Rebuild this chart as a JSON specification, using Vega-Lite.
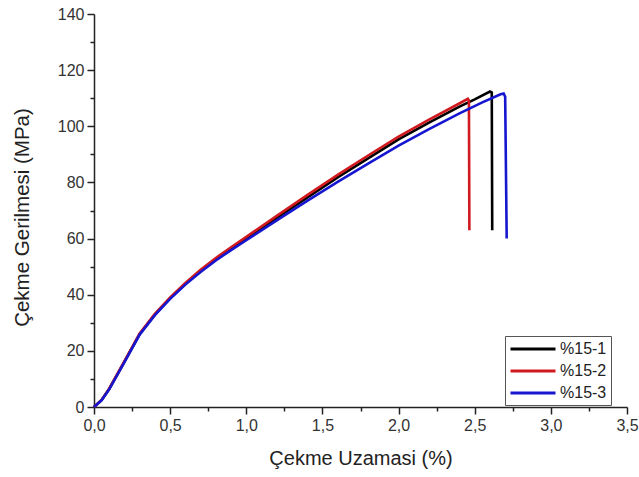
{
  "$schema": "https://vega.github.io/schema/vega-lite/v6.json",
  "autosize": "none",
  "width": 533,
  "height": 393,
  "padding": {"left": 94, "top": 14, "right": 12, "bottom": 70},
  "background": "white",
  "config": {
    "view": {"stroke": null},
    "font": "Liberation Sans"
  },
  "data": {
    "values": [
      {"s": "%15-1", "i": 1, "x": 0.0, "y": 0.0},
      {"s": "%15-1", "i": 2, "x": 0.05, "y": 2.5},
      {"s": "%15-1", "i": 3, "x": 0.1, "y": 6.5},
      {"s": "%15-1", "i": 4, "x": 0.2, "y": 16.2},
      {"s": "%15-1", "i": 5, "x": 0.3, "y": 26.0},
      {"s": "%15-1", "i": 6, "x": 0.4, "y": 33.0},
      {"s": "%15-1", "i": 7, "x": 0.5, "y": 38.8},
      {"s": "%15-1", "i": 8, "x": 0.6, "y": 43.9},
      {"s": "%15-1", "i": 9, "x": 0.7, "y": 48.5},
      {"s": "%15-1", "i": 10, "x": 0.8, "y": 52.6},
      {"s": "%15-1", "i": 11, "x": 0.9, "y": 56.4},
      {"s": "%15-1", "i": 12, "x": 1.0, "y": 60.1},
      {"s": "%15-1", "i": 13, "x": 1.2, "y": 67.4},
      {"s": "%15-1", "i": 14, "x": 1.4, "y": 74.6},
      {"s": "%15-1", "i": 15, "x": 1.6, "y": 81.8},
      {"s": "%15-1", "i": 16, "x": 1.8, "y": 88.6},
      {"s": "%15-1", "i": 17, "x": 2.0, "y": 95.3},
      {"s": "%15-1", "i": 18, "x": 2.2, "y": 101.3},
      {"s": "%15-1", "i": 19, "x": 2.4, "y": 107.0},
      {"s": "%15-1", "i": 20, "x": 2.5, "y": 109.6},
      {"s": "%15-1", "i": 21, "x": 2.6, "y": 112.4},
      {"s": "%15-1", "i": 22, "x": 2.612, "y": 112.0},
      {"s": "%15-1", "i": 23, "x": 2.615, "y": 63.0},
      {"s": "%15-2", "i": 1, "x": 0.0, "y": 0.0},
      {"s": "%15-2", "i": 2, "x": 0.05, "y": 2.5},
      {"s": "%15-2", "i": 3, "x": 0.1, "y": 6.5},
      {"s": "%15-2", "i": 4, "x": 0.2, "y": 16.3},
      {"s": "%15-2", "i": 5, "x": 0.3, "y": 26.2},
      {"s": "%15-2", "i": 6, "x": 0.4, "y": 33.2},
      {"s": "%15-2", "i": 7, "x": 0.5, "y": 39.0},
      {"s": "%15-2", "i": 8, "x": 0.6, "y": 44.2},
      {"s": "%15-2", "i": 9, "x": 0.7, "y": 48.9},
      {"s": "%15-2", "i": 10, "x": 0.8, "y": 53.1},
      {"s": "%15-2", "i": 11, "x": 0.9, "y": 56.9},
      {"s": "%15-2", "i": 12, "x": 1.0, "y": 60.6},
      {"s": "%15-2", "i": 13, "x": 1.2, "y": 68.1},
      {"s": "%15-2", "i": 14, "x": 1.4, "y": 75.5},
      {"s": "%15-2", "i": 15, "x": 1.6, "y": 82.7},
      {"s": "%15-2", "i": 16, "x": 1.8, "y": 89.6},
      {"s": "%15-2", "i": 17, "x": 2.0, "y": 96.3},
      {"s": "%15-2", "i": 18, "x": 2.2, "y": 102.4},
      {"s": "%15-2", "i": 19, "x": 2.35, "y": 106.7},
      {"s": "%15-2", "i": 20, "x": 2.455, "y": 109.8},
      {"s": "%15-2", "i": 21, "x": 2.462, "y": 109.2},
      {"s": "%15-2", "i": 22, "x": 2.465, "y": 63.0},
      {"s": "%15-3", "i": 1, "x": 0.0, "y": 0.0},
      {"s": "%15-3", "i": 2, "x": 0.05, "y": 2.4},
      {"s": "%15-3", "i": 3, "x": 0.1, "y": 6.3},
      {"s": "%15-3", "i": 4, "x": 0.2, "y": 16.0},
      {"s": "%15-3", "i": 5, "x": 0.3, "y": 25.8},
      {"s": "%15-3", "i": 6, "x": 0.4, "y": 32.7},
      {"s": "%15-3", "i": 7, "x": 0.5, "y": 38.5},
      {"s": "%15-3", "i": 8, "x": 0.6, "y": 43.6},
      {"s": "%15-3", "i": 9, "x": 0.7, "y": 48.1},
      {"s": "%15-3", "i": 10, "x": 0.8, "y": 52.2},
      {"s": "%15-3", "i": 11, "x": 0.9, "y": 55.9},
      {"s": "%15-3", "i": 12, "x": 1.0, "y": 59.4},
      {"s": "%15-3", "i": 13, "x": 1.2, "y": 66.5},
      {"s": "%15-3", "i": 14, "x": 1.4, "y": 73.4},
      {"s": "%15-3", "i": 15, "x": 1.6, "y": 80.2},
      {"s": "%15-3", "i": 16, "x": 1.8, "y": 86.7},
      {"s": "%15-3", "i": 17, "x": 2.0, "y": 93.1},
      {"s": "%15-3", "i": 18, "x": 2.2, "y": 99.0},
      {"s": "%15-3", "i": 19, "x": 2.4, "y": 104.6},
      {"s": "%15-3", "i": 20, "x": 2.55, "y": 108.5},
      {"s": "%15-3", "i": 21, "x": 2.67, "y": 111.4},
      {"s": "%15-3", "i": 22, "x": 2.69, "y": 111.7},
      {"s": "%15-3", "i": 23, "x": 2.7, "y": 110.5},
      {"s": "%15-3", "i": 24, "x": 2.705, "y": 85.0},
      {"s": "%15-3", "i": 25, "x": 2.71, "y": 60.0}
    ]
  },
  "layer": [
    {
      "mark": {"type": "line", "strokeWidth": 2.6, "interpolate": "linear"},
      "encoding": {
        "x": {
          "field": "x", "type": "quantitative",
          "scale": {"domain": [0, 3.5], "nice": false, "zero": false},
          "axis": {
            "orient": "bottom",
            "values": [0, 0.5, 1, 1.5, 2, 2.5, 3, 3.5],
            "labelExpr": "replace(format(datum.value, '.1f'), '.', ',')",
            "title": "Çekme Uzamasi (%)",
            "titleFontSize": 20, "titleFontWeight": "normal", "titleColor": "#222",
            "titlePadding": 15,
            "labelFontSize": 16, "labelColor": "#333", "labelPadding": 3,
            "labelFlush": false,
            "domainColor": "#222", "domainWidth": 1.5,
            "tickColor": "#222", "tickWidth": 1.5, "tickSize": 7,
            "grid": false
          }
        },
        "y": {
          "field": "y", "type": "quantitative",
          "scale": {"domain": [0, 140], "nice": false},
          "axis": {
            "orient": "left",
            "values": [0, 20, 40, 60, 80, 100, 120, 140],
            "title": "Çekme Gerilmesi (MPa)",
            "titleFontSize": 20.5, "titleFontWeight": "normal", "titleColor": "#222",
            "titlePadding": 25,
            "titleY": 203,
            "labelFontSize": 16, "labelColor": "#333", "labelPadding": 3,
            "labelFlush": false,
            "domainColor": "#222", "domainWidth": 1.5,
            "tickColor": "#222", "tickWidth": 1.5, "tickSize": 7,
            "grid": false
          }
        },
        "order": {"field": "i", "type": "quantitative"},
        "color": {
          "field": "s", "type": "nominal",
          "scale": {"domain": ["%15-1", "%15-2", "%15-3"], "range": ["#000000", "#d11a1f", "#1616d0"]},
          "legend": {
            "title": null,
            "orient": "none",
            "legendX": 411,
            "legendY": 322,
            "symbolType": "M-1,0H5",
            "symbolSize": 225,
            "symbolStrokeWidth": 3,
            "labelFontSize": 16,
            "labelColor": "#222",
            "labelOffset": 33,
            "rowPadding": 5,
            "padding": 4,
            "strokeColor": "#555",
            "fillColor": "white"
          }
        }
      }
    },
    {
      "mark": {"type": "point", "opacity": 0},
      "encoding": {
        "x": {
          "field": "x", "type": "quantitative",
          "axis": {
            "orient": "bottom",
            "values": [0.25, 0.75, 1.25, 1.75, 2.25, 2.75, 3.25],
            "labels": false, "title": null, "domain": false,
            "tickColor": "#222", "tickWidth": 1.5, "tickSize": 4, "grid": false
          }
        },
        "y": {
          "field": "y", "type": "quantitative",
          "axis": {
            "orient": "left",
            "values": [10, 30, 50, 70, 90, 110, 130],
            "labels": false, "title": null, "domain": false,
            "tickColor": "#222", "tickWidth": 1.5, "tickSize": 4, "grid": false
          }
        }
      }
    }
  ],
  "resolve": {"axis": {"x": "independent", "y": "independent"}}
}
